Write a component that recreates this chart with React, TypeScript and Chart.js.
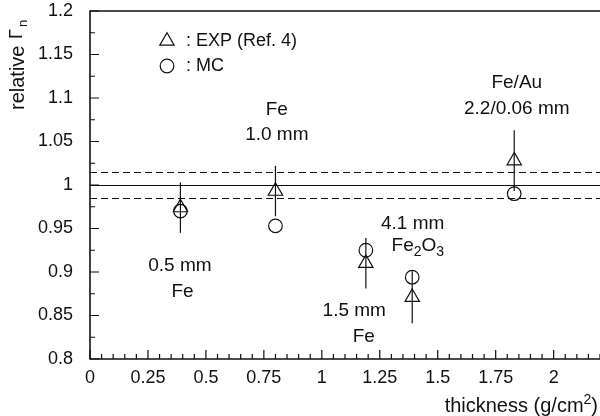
import React, { useEffect, useRef } from "react";
import { Chart, registerables } from "chart.js";

Chart.register(...registerables);

const FONT = '"Liberation Sans", Arial, Helvetica, sans-serif';
const INK = "#111";

// ---- data ----
const thickness = [0.39, 0.8, 1.19, 1.39, 1.83];
const expValues = [0.974, 0.993, 0.91, 0.871, 1.028];
const expErrors = [0.029, 0.029, 0.029, 0.03, 0.035];
const mcValues = [0.97, 0.953, 0.925, 0.894, 0.99];
const xTickValues = [0, 0.25, 0.5, 0.75, 1, 1.25, 1.5, 1.75, 2];
const yTickValues = [0.8, 0.85, 0.9, 0.95, 1, 1.05, 1.1, 1.15, 1.2];
const referenceValue = 1;
const referenceBand = 0.015;

type Part = { t: string; sub?: boolean; sup?: boolean };

// annotation labels, placed in data coordinates
const annotations: { x: number; y: number; parts: Part[] }[] = [
  { x: 0.388, y: 0.907, parts: [{ t: "0.5 mm" }] },
  { x: 0.399, y: 0.877, parts: [{ t: "Fe" }] },
  { x: 0.806, y: 1.087, parts: [{ t: "Fe" }] },
  { x: 0.806, y: 1.058, parts: [{ t: "1.0 mm" }] },
  { x: 1.841, y: 1.117, parts: [{ t: "Fe/Au" }] },
  { x: 1.841, y: 1.088, parts: [{ t: "2.2/0.06 mm" }] },
  { x: 1.392, y: 0.956, parts: [{ t: "4.1 mm" }] },
  {
    x: 1.414,
    y: 0.93,
    parts: [{ t: "Fe" }, { t: "2", sub: true }, { t: "O" }, { t: "3", sub: true }],
  },
  { x: 1.14, y: 0.856, parts: [{ t: "1.5 mm" }] },
  { x: 1.181, y: 0.826, parts: [{ t: "Fe" }] },
];

function drawParts(
  ctx: CanvasRenderingContext2D,
  parts: Part[],
  x: number,
  y: number,
  size: number,
  align: "center" | "left" | "right"
) {
  const small = Math.round(size * 0.72);
  const widths = parts.map((p) => {
    ctx.font = `${p.sub || p.sup ? small : size}px ${FONT}`;
    return ctx.measureText(p.t).width;
  });
  const total = widths.reduce((a, b) => a + b, 0);
  let cx = align === "center" ? x - total / 2 : align === "right" ? x - total : x;
  ctx.textAlign = "left";
  ctx.textBaseline = "middle";
  parts.forEach((p, i) => {
    ctx.font = `${p.sub || p.sup ? small : size}px ${FONT}`;
    const dy = p.sub ? size * 0.32 : p.sup ? -size * 0.38 : 0;
    ctx.fillText(p.t, cx, y + dy);
    cx += widths[i];
  });
}

const decorPlugin = {
  id: "decor",
  beforeDatasetsDraw(chart: any) {
    const { ctx, chartArea, scales } = chart;
    const ys = scales.y;
    ctx.save();
    ctx.strokeStyle = INK;
    ctx.lineWidth = 1;
    const y0 = Math.round(ys.getPixelForValue(referenceValue)) + 0.5;
    ctx.beginPath();
    ctx.moveTo(chartArea.left, y0);
    ctx.lineTo(chartArea.right, y0);
    ctx.stroke();
    ctx.setLineDash([7, 4]);
    [referenceValue + referenceBand, referenceValue - referenceBand].forEach((v) => {
      const yy = Math.round(ys.getPixelForValue(v)) + 0.5;
      ctx.beginPath();
      ctx.moveTo(chartArea.left, yy);
      ctx.lineTo(chartArea.right, yy);
      ctx.stroke();
    });
    ctx.restore();
  },
  afterDatasetsDraw(chart: any) {
    const { ctx, scales } = chart;
    const xs = scales.x;
    const ys = scales.y;
    ctx.save();
    ctx.strokeStyle = INK;
    ctx.lineWidth = 1.2;
    thickness.forEach((t, i) => {
      const px = xs.getPixelForValue(t);
      ctx.beginPath();
      ctx.moveTo(px, ys.getPixelForValue(expValues[i] + expErrors[i]));
      ctx.lineTo(px, ys.getPixelForValue(expValues[i] - expErrors[i]));
      ctx.stroke();
    });
    ctx.restore();
  },
  afterDraw(chart: any) {
    const { ctx, chartArea, scales } = chart;
    const xs = scales.x;
    const ys = scales.y;
    const { left, right, top, bottom } = chartArea;
    ctx.save();
    ctx.strokeStyle = INK;
    ctx.fillStyle = INK;

    // frame: left, bottom, top
    ctx.lineWidth = 1.6;
    ctx.beginPath();
    ctx.moveTo(right, top);
    ctx.lineTo(left, top);
    ctx.lineTo(left, bottom);
    ctx.lineTo(right, bottom);
    ctx.stroke();

    // inward ticks
    ctx.lineWidth = 1.2;
    ctx.beginPath();
    for (let k = 0; k <= 16; k++) {
      const v = 0.8 + k * 0.025;
      const py = ys.getPixelForValue(v);
      const len = k % 2 === 0 ? 9 : 5;
      ctx.moveTo(left, py);
      ctx.lineTo(left + len, py);
    }
    for (let k = 0; k <= 44; k++) {
      const v = k * 0.05;
      const px = xs.getPixelForValue(v);
      if (px > right) break;
      const len = k % 5 === 0 ? 9 : 5;
      ctx.moveTo(px, bottom);
      ctx.lineTo(px, bottom - len);
    }
    ctx.stroke();

    // annotations
    annotations.forEach((a) => {
      drawParts(ctx, a.parts, xs.getPixelForValue(a.x), ys.getPixelForValue(a.y), 19, "center");
    });

    // legend
    const lx = 167;
    const ly1 = 41;
    const ly2 = 66;
    const r = 8.3;
    ctx.lineWidth = 1.2;
    ctx.beginPath();
    ctx.moveTo(lx, ly1 - r);
    ctx.lineTo(lx + 0.866 * r, ly1 + 0.5 * r);
    ctx.lineTo(lx - 0.866 * r, ly1 + 0.5 * r);
    ctx.closePath();
    ctx.stroke();
    ctx.beginPath();
    ctx.arc(lx, ly2, 6.8, 0, Math.PI * 2);
    ctx.stroke();
    drawParts(ctx, [{ t: ": EXP (Ref. 4)" }], 186, ly1, 18, "left");
    drawParts(ctx, [{ t: ": MC" }], 186, ly2, 18, "left");

    // x title
    ctx.textBaseline = "alphabetic";
    ctx.textAlign = "left";
    const xParts: Part[] = [{ t: "thickness (g/cm" }, { t: "2", sup: true }, { t: ")" }];
    const size = 20;
    const small = 14;
    const ws = xParts.map((p) => {
      ctx.font = `${p.sup ? small : size}px ${FONT}`;
      return ctx.measureText(p.t).width;
    });
    let cx = 598 - ws.reduce((a, b) => a + b, 0);
    xParts.forEach((p, i) => {
      ctx.font = `${p.sup ? small : size}px ${FONT}`;
      ctx.fillText(p.t, cx, 411.5 + (p.sup ? -8 : 0));
      cx += ws[i];
    });

    // y title (rotated)
    ctx.save();
    ctx.translate(23.5, 110);
    ctx.rotate(-Math.PI / 2);
    ctx.textAlign = "left";
    ctx.textBaseline = "alphabetic";
    ctx.font = `20px ${FONT}`;
    const w1 = ctx.measureText("relative ").width;
    ctx.fillText("relative ", 0, 0);
    ctx.font = `18px ${FONT}`;
    ctx.fillText("Γ", w1 + 1, -2);
    const w2 = ctx.measureText("Γ").width;
    ctx.font = `13px ${FONT}`;
    ctx.fillText("n", w1 + 3 + w2, 3);
    ctx.restore();

    ctx.restore();
  },
};

export default function App() {
  const canvasRef = useRef<HTMLCanvasElement | null>(null);

  useEffect(() => {
    const canvas = canvasRef.current;
    if (!canvas) return;
    const chart = new Chart(canvas, {
      type: "scatter",
      data: {
        datasets: [
          {
            label: "EXP (Ref. 4)",
            data: thickness.map((x, i) => ({ x, y: expValues[i] })),
            pointStyle: "triangle",
            pointRadius: 8.3,
            pointHoverRadius: 8.3,
            backgroundColor: "rgba(255,255,255,0)",
            borderColor: INK,
            borderWidth: 1.2,
          },
          {
            label: "MC",
            data: thickness.map((x, i) => ({ x, y: mcValues[i] })),
            pointStyle: "circle",
            pointRadius: 6.8,
            pointHoverRadius: 6.8,
            backgroundColor: "rgba(255,255,255,0)",
            borderColor: INK,
            borderWidth: 1.2,
          },
        ],
      },
      options: {
        animation: false,
        responsive: false,
        devicePixelRatio: 1,
        events: [],
        layout: { autoPadding: false, padding: { top: 11, right: 0, left: 0, bottom: 0 } },
        plugins: { legend: { display: false }, tooltip: { enabled: false } },
        scales: {
          x: {
            type: "linear",
            min: 0,
            max: 2.2,
            grid: { display: false, drawTicks: false },
            border: { display: false },
            afterBuildTicks: (s: any) => {
              s.ticks = xTickValues.map((v) => ({ value: v }));
            },
            afterFit: (s: any) => {
              s.height = 57;
              s.paddingLeft = 0;
              s.paddingRight = 0;
            },
            ticks: {
              font: { family: FONT, size: 18 },
              color: INK,
              padding: 8,
              maxRotation: 0,
              autoSkip: false,
              callback: (v: any) => String(Number(Number(v).toFixed(2))),
            },
          },
          y: {
            type: "linear",
            min: 0.8,
            max: 1.2,
            grid: { display: false, drawTicks: false },
            border: { display: false },
            afterBuildTicks: (s: any) => {
              s.ticks = yTickValues.map((v) => ({ value: v }));
            },
            afterFit: (s: any) => {
              s.width = 90;
              s.paddingTop = 0;
              s.paddingBottom = 0;
            },
            ticks: {
              font: { family: FONT, size: 18 },
              color: INK,
              padding: 17,
              autoSkip: false,
              callback: (v: any) => String(Number(Number(v).toFixed(2))),
            },
          },
        },
      },
      plugins: [decorPlugin],
    });
    return () => chart.destroy();
  }, []);

  return (
    <canvas
      ref={canvasRef}
      width={600}
      height={416}
      style={{ position: "absolute", left: 0, top: 0, display: "block", width: 600, height: 416 }}
    />
  );
}
